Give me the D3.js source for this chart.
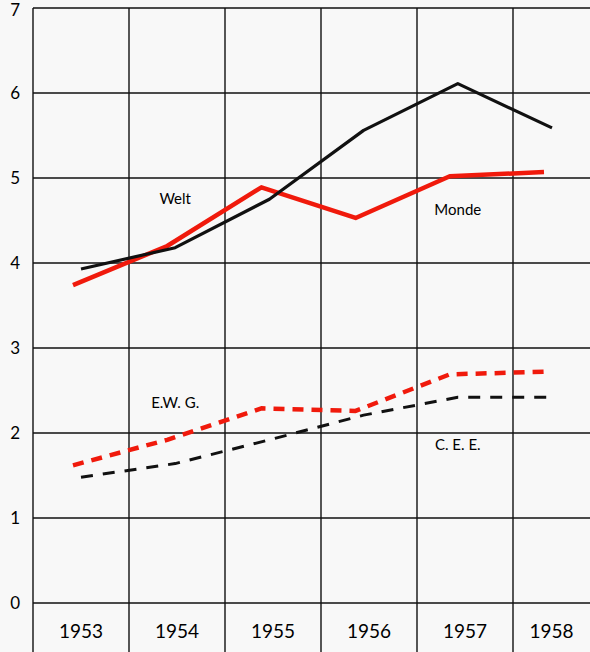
<!DOCTYPE html>
<html>
<head>
<meta charset="utf-8">
<script src="https://cdn.jsdelivr.net/npm/d3@7"></script>
<style>
  html, body { margin: 0; padding: 0; background: #ffffff; }
  svg { display: block; }
</style>
</head>
<body>
<svg id="chart" width="590" height="652"></svg>
<script>
// ---- data ----
const years = [1953, 1954, 1955, 1956, 1957, 1958];
const yTicks = [0, 1, 2, 3, 4, 5, 6, 7];
const welt  = [3.93, 4.18, 4.75, 5.56, 6.11, 5.59];
const monde = [3.74, 4.20, 4.89, 4.53, 5.02, 5.07];
const ewg   = [1.62, 1.92, 2.29, 2.26, 2.69, 2.72];
const cee   = [1.48, 1.64, 1.92, 2.21, 2.42, 2.42];
const seriesLabels = [
  { text: "Welt",     year: 1954, value: 4.70 },
  { text: "Monde",    year: 1957, value: 4.56 },
  { text: "E.W. G.",  year: 1954, value: 2.29 },
  { text: "C. E. E.", year: 1957, value: 1.80 }
];

// ---- layout ----
const chartW = 590, chartH = 652;
const plotLeft = 33, plotTop = 8, zeroY = 603, colStep = 96;
const svg = d3.select("#chart");
const fontFam = "Lato, 'Open Sans', sans-serif";

svg.append("rect").attr("width", chartW).attr("height", chartH).attr("fill", "#f8f8f8");

const yScale = d3.scaleLinear().domain([0, 7]).range([zeroY, plotTop]);
const band = d3.scaleBand().domain(years).range([plotLeft, plotLeft + colStep * years.length]).padding(0);
const xData = d3.scalePoint().domain(years).range([81, 552]);

const gridColor = "#111";
// horizontal grid lines
svg.append("g").selectAll("line").data(yTicks).join("line")
  .attr("x1", plotLeft).attr("x2", chartW)
  .attr("y1", d => yScale(d)).attr("y2", d => yScale(d))
  .attr("stroke", gridColor).attr("stroke-width", 1.4);

// vertical lines: left axis + column boundaries
const vlines = [plotLeft].concat(years.slice(1).map(d => band(d)));
svg.append("g").selectAll("line").data(vlines).join("line")
  .attr("x1", d => d).attr("x2", d => d)
  .attr("y1", plotTop).attr("y2", chartH)
  .attr("stroke", gridColor).attr("stroke-width", 1.4);

// y tick labels
svg.append("g").selectAll("text").data(yTicks).join("text")
  .attr("x", 20).attr("y", d => Math.max(yScale(d), 10))
  .attr("dy", "0.36em")
  .attr("text-anchor", "end")
  .attr("font-family", fontFam).attr("font-size", 17)
  .attr("fill", "#000")
  .text(d => d);

// year labels
svg.append("g").selectAll("text").data(years).join("text")
  .attr("x", d => (band(d) + Math.min(band(d) + band.bandwidth(), chartW)) / 2)
  .attr("y", 638)
  .attr("text-anchor", "middle")
  .attr("font-family", fontFam).attr("font-size", 19)
  .attr("fill", "#000")
  .text(d => d);

// ---- lines ----
const red = "#f01a0c";
function drawLine(values, color, width, dash, shift) {
  const line = d3.line().x((d, i) => xData(years[i]) + shift).y(d => yScale(d));
  svg.append("path")
    .attr("d", line(values))
    .attr("fill", "none")
    .attr("stroke", color)
    .attr("stroke-width", width)
    .attr("stroke-linejoin", "round")
    .attr("stroke-dasharray", dash);
}
drawLine(monde, red, 4.5, null, -8);
drawLine(welt, "#111", 3.2, null, 0);
drawLine(ewg, red, 4.5, "11,8", -8);
drawLine(cee, "#111", 3, "12,10", 0);

// series labels
svg.append("g").selectAll("text").data(seriesLabels).join("text")
  .attr("x", d => xData(d.year))
  .attr("y", d => yScale(d.value))
  .attr("text-anchor", "middle")
  .attr("font-family", fontFam).attr("font-size", 15)
  .attr("fill", "#000")
  .text(d => d.text);
</script>
</body>
</html>
